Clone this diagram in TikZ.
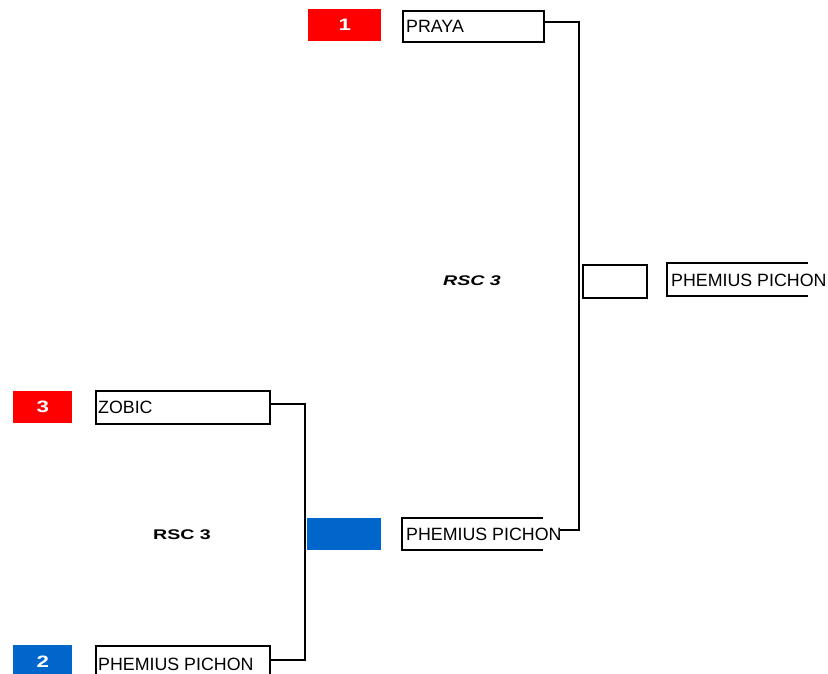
\documentclass[tikz,border=0pt]{standalone}
\usepackage{fontspec}
\setmainfont{Liberation Sans}
\definecolor{seedred}{RGB}{255,0,0}
\definecolor{seedblue}{RGB}{0,102,204}
\begin{document}
\begin{tikzpicture}[x=1pt,y=-1pt,
  namebox/.style={draw=black, line width=2pt, anchor=north west, inner sep=0pt},
  seedbox/.style={anchor=north west, inner sep=0pt, draw=none},
  seednum/.style={text=white, inner sep=0pt, font=\fontsize{16.5}{16.5}\selectfont\bfseries},
  nametext/.style={anchor=west, inner sep=0pt, font=\fontsize{17.8}{17.8}\selectfont},
  conn/.style={draw=black, line width=2pt},
  openbox/.style={draw=black, line width=1.4pt},
  rsc/.style={inner sep=0pt, font=\fontsize{14}{14}\selectfont\bfseries}
]
\useasboundingbox (0,0) rectangle (828,674);
% seeds
\node[seedbox, fill=seedred, minimum width=73, minimum height=32] (s1) at (308,9) {};
\node[seednum] (n1) at (s1.center) {\scalebox{1.35}[1]{1}};
\node[seedbox, fill=seedred, minimum width=59, minimum height=32] (s3) at (13,391) {};
\node[seednum] (n3) at (s3.center) {\scalebox{1.35}[1]{3}};
\node[seedbox, fill=seedblue, minimum width=59, minimum height=32] (s2) at (13,645) {};
\node[seednum] (n2) at ([yshift=-1pt]s2.center) {\scalebox{1.35}[1]{2}};
\node[seedbox, fill=seedblue, minimum width=74, minimum height=32] (sb) at (307,518) {};
% name boxes
\node[namebox, minimum width=141, minimum height=31] (praya) at (402,10) {};
\node[nametext] (tpraya) at ([xshift=4pt]praya.west) {PRAYA};
\node[namebox, minimum width=174, minimum height=33] (zobic) at (95,390) {};
\node[nametext] (tzobic) at ([xshift=3pt]zobic.west) {ZOBIC};
\node[namebox, minimum width=174, minimum height=34] (phem2) at (95,645) {};
\node[nametext] (tphem2) at ([xshift=3pt,yshift=-1pt]phem2.west) {PHEMIUS PICHON};
\node[namebox, minimum width=64, minimum height=33] (mid) at (582,264) {};
% open boxes
\coordinate (pa) at (543,518);
\coordinate (pb) at (402,518);
\coordinate (pc) at (402,550);
\coordinate (pd) at (543,550);
\draw[openbox] (pa) -- (pb) -- (pc) -- (pd);
\node[nametext] (tphem1) at (406,534.5) {PHEMIUS PICHON};
\coordinate (wa) at (808,263);
\coordinate (wb) at (667,263);
\coordinate (wc) at (667,296);
\coordinate (wd) at (808,296);
\draw[openbox] (wa) -- (wb) -- (wc) -- (wd);
\node[nametext] (twin) at (671,280.5) {PHEMIUS PICHON};
% connectors
\coordinate (r1) at (543,22);
\coordinate (r2) at (579,22);
\coordinate (r3) at (579,530);
\coordinate (r4) at (560,530);
\draw[conn] (r1) -- (r2) -- (r3) -- (r4);
\coordinate (l1) at (269,404);
\coordinate (l2) at (305,404);
\coordinate (l3) at (305,660);
\coordinate (l4) at (269,660);
\draw[conn] (l1) -- (l2) -- (l3) -- (l4);
% labels
\node[rsc] (rsctop) at (472,281) {\scalebox{1.4}[1]{\itshape RSC 3}};
\node[rsc] (rscbot) at (182,535) {\scalebox{1.4}[1]{RSC 3}};
\end{tikzpicture}
\end{document}
